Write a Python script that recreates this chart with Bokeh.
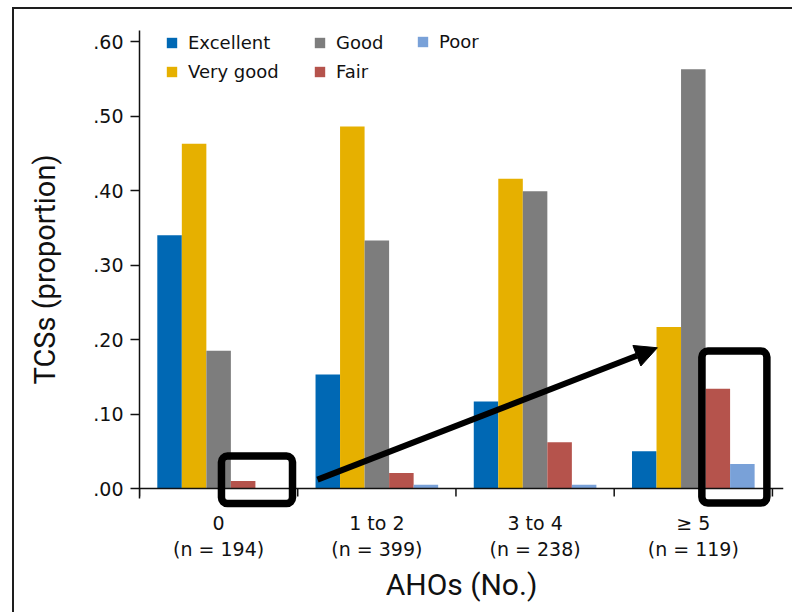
from bokeh.plotting import figure
from bokeh.models import (Range1d, FixedTicker, Legend, LegendItem, BoxAnnotation,
                          Arrow, NormalHead, ColumnDataSource, Span)
from bokeh.transform import dodge
from bokeh.embed import file_html
from bokeh.resources import INLINE

# ---------------- data ----------------
categories = ["0", "1 to 2", "3 to 4", "\u2265 5"]
n_counts = [194, 399, 238, 119]
series = ["Excellent", "Very good", "Good", "Fair", "Poor"]
excellent = [0.340, 0.153, 0.117, 0.050]
very_good = [0.463, 0.486, 0.416, 0.217]
good = [0.185, 0.333, 0.399, 0.563]
fair = [0.010, 0.021, 0.062, 0.134]
poor = [0.000, 0.005, 0.005, 0.033]
y_ticks = [0.0, 0.1, 0.2, 0.3, 0.4, 0.5, 0.6]
y_tick_labels = [".00", ".10", ".20", ".30", ".40", ".50", ".60"]

colors = ["#0068b4", "#e6b000", "#7d7d7d", "#b5534c", "#79a1d8"]
values = [excellent, very_good, good, fair, poor]

centers = [i + 0.5 for i in range(len(categories))]
boundaries = list(range(len(categories) + 1))
data = dict(x=centers)
keys = ["excellent", "very_good", "good", "fair", "poor"]
for k, v in zip(keys, values):
    data[k] = v
source = ColumnDataSource(data)

FONT = "DejaVu Sans"
INK = "#111111"

p = figure(width=780, height=605,
           x_range=Range1d(0, 4.07), y_range=Range1d(-0.0268, 0.615),
           output_backend="svg", toolbar_location=None,
           min_border_left=125, min_border_right=11,
           min_border_top=21, min_border_bottom=106)
p.margin = (7, 0, 0, 12)
p.styles = {"border-left": "2px solid #1e1e1e", "border-top": "2px solid #1e1e1e"}
p.outline_line_color = None
p.xgrid.visible = False
p.ygrid.visible = False
p.background_fill_color = "white"
p.border_fill_color = "white"

bar_w = 0.155
offsets = [-0.31, -0.155, 0.0, 0.155, 0.31]
renderers = []
for k, off, c in zip(keys, offsets, colors):
    r = p.vbar(x=dodge("x", off, range=p.x_range), top=k, width=bar_w, bottom=0,
               source=source, fill_color=c, line_color=None)
    renderers.append(r)

# ---------------- x axis (line at y = 0, labels below) ----------------
p.add_layout(Span(location=0, dimension="width", line_color=INK, line_width=1.5))
tick_len = 8 / 745.0
p.segment(x0=boundaries, y0=[0] * len(boundaries), x1=boundaries,
          y1=[-tick_len] * len(boundaries), line_color=INK, line_width=1.5)

xa = p.xaxis[0]
xa.ticker = FixedTicker(ticks=centers, minor_ticks=[])
xa.major_label_overrides = {c: f"{cat}\n(n = {n})" for c, cat, n in zip(centers, categories, n_counts)}
xa.axis_line_color = None
xa.major_tick_line_color = None
xa.major_tick_out = 0
xa.major_tick_in = 0
xa.minor_tick_out = 0
xa.minor_tick_in = 0
xa.major_label_text_font = FONT
xa.major_label_text_font_size = "19px"
xa.major_label_text_color = INK
xa.major_label_text_line_height = 1.2
xa.major_label_standoff = 3
xa.axis_label = "AHOs (No.)"
xa.axis_label_text_font = "Roboto"
xa.axis_label_text_font_size = "30px"
xa.axis_label_text_font_style = "normal"
xa.axis_label_text_color = INK
xa.axis_label_standoff = 4

ya = p.yaxis[0]
ya.bounds = (-0.0135, 0.615)
ya.ticker = FixedTicker(ticks=y_ticks, minor_ticks=[])
ya.major_label_overrides = {t: l for t, l in zip(y_ticks, y_tick_labels)}
ya.major_tick_out = 9
ya.major_tick_in = 0
ya.axis_line_width = 1.5
ya.major_tick_line_width = 1.5
ya.axis_line_color = INK
ya.major_tick_line_color = INK
ya.major_label_text_font = FONT
ya.major_label_text_font_size = "19px"
ya.major_label_text_color = INK
ya.major_label_standoff = 7
ya.axis_label = "TCSs (proportion)"
ya.axis_label_text_font = "Roboto"
ya.axis_label_text_font_size = "29px"
ya.axis_label_text_font_style = "normal"
ya.axis_label_text_color = INK
ya.axis_label_standoff = 28

# ---------------- legend (three columns) ----------------
def make_legend(idx, loc):
    lg = Legend(items=[LegendItem(label=series[i], renderers=[renderers[i]]) for i in idx],
                location=loc, orientation="vertical",
                padding=0, spacing=8, margin=0,
                glyph_width=13, glyph_height=13, label_standoff=10, label_height=20,
                label_text_font=FONT, label_text_font_size="18px",
                label_text_color=INK,
                border_line_color=None, background_fill_alpha=0)
    p.add_layout(lg)

make_legend([0, 1], (26, 426))
make_legend([2, 3], (174, 426))
make_legend([4], (277, 456))

# ---------------- annotations ----------------
box_style = dict(fill_alpha=0, line_color="black", line_alpha=1.0, line_width=7.5, border_radius=6)
p.add_layout(BoxAnnotation(left=0.518, right=0.967, bottom=-0.0201, top=0.0436, **box_style))
p.add_layout(BoxAnnotation(left=3.554, right=3.965, bottom=-0.0195, top=0.1846, **box_style))
p.add_layout(Arrow(x_start=1.125, y_start=0.012, x_end=3.273, y_end=0.189,
                   line_width=6, line_color="black",
                   end=NormalHead(size=22, fill_color="black", line_color="black", line_width=1)))

open("out.html", "w").write(file_html(p, INLINE))
